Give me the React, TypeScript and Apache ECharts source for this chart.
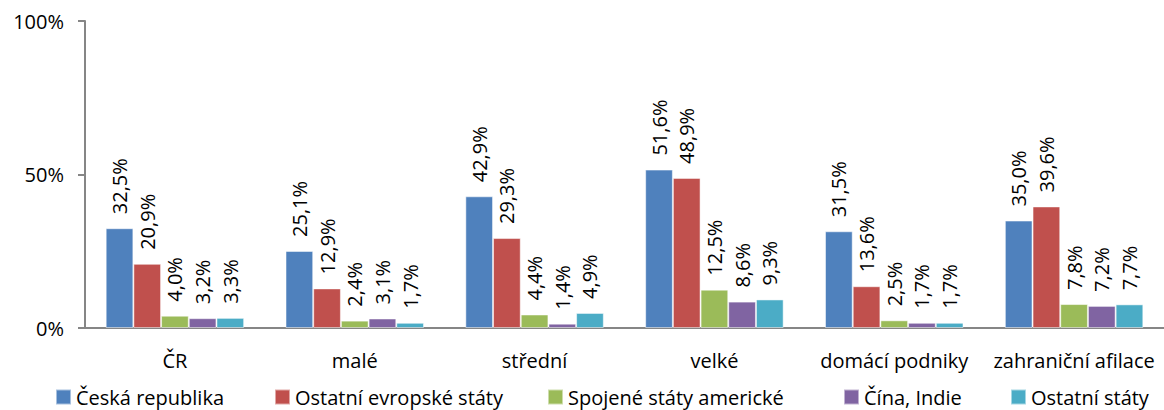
import React, { useEffect, useRef } from "react";
import * as echarts from "echarts";

const categories = ["ČR", "malé", "střední", "velké", "domácí podniky", "zahraniční afilace"];
const seriesNames = ["Česká republika", "Ostatní evropské státy", "Spojené státy americké", "Čína, Indie", "Ostatní státy"];
const ceskaRepublika = [32.5, 25.1, 42.9, 51.6, 31.5, 35.0];
const ostatniEvropske = [20.9, 12.9, 29.3, 48.9, 13.6, 39.6];
const spojeneStaty = [4.0, 2.4, 4.4, 12.5, 2.5, 7.8];
const cinaIndie = [3.2, 3.1, 1.4, 8.6, 1.7, 7.2];
const ostatniStaty = [3.3, 1.7, 4.9, 9.3, 1.7, 7.7];
const yTicks = [0, 50, 100];

const colors = ["#4F81BD", "#C0504D", "#9BBB59", "#8064A2", "#4BACC6"];
const legendLeft = [55, 274, 547, 843, 1010];
const FONT = "'Open Sans', 'Noto Sans', sans-serif";

export default function App() {
  const ref = useRef<HTMLDivElement>(null);
  useEffect(() => {
    if (!ref.current) return;
    const chart = echarts.init(ref.current, null, { renderer: "svg" });
    const data = [ceskaRepublika, ostatniEvropske, spojeneStaty, cinaIndie, ostatniStaty];
    const fmt = (v: number) => v.toFixed(1).replace(".", ",") + "%";
    chart.setOption({
      animation: false,
      textStyle: { fontFamily: FONT },
      grid: { left: 85, right: 0, top: 21, bottom: 82, containLabel: false },
      legend: seriesNames.map((n, i) => ({
        data: [n],
        left: legendLeft[i],
        top: 387,
        itemWidth: 15,
        itemHeight: 15,
        itemGap: 7,
        padding: 0,
        icon: "rect",
        textStyle: { fontFamily: FONT, fontSize: 20, color: "#000", padding: [0, 0, 0, 0] },
      })),
      xAxis: {
        type: "category",
        data: categories,
        axisLine: { lineStyle: { color: "#868686", width: 2 } },
        axisTick: { show: false },
        axisLabel: { interval: 0, fontFamily: FONT, fontSize: 20, color: "#000", margin: 22 },
      },
      yAxis: {
        type: "value",
        min: 0,
        max: 100,
        interval: 50,
        axisLine: { show: true, lineStyle: { color: "#868686", width: 2 } },
        axisTick: { show: true, length: 7, lineStyle: { color: "#868686", width: 2 } },
        splitLine: { show: false },
        axisLabel: {
          fontFamily: FONT,
          fontSize: 20,
          color: "#000",
          margin: 21,
          formatter: (v: number) => (yTicks.includes(v) ? v + "%" : ""),
        },
      },
      series: seriesNames.map((n, i) => ({
        name: n,
        type: "bar",
        data: data[i],
        barGap: "0%",
        barCategoryGap: "23%",
        itemStyle: { color: colors[i], borderColor: "rgba(255,255,255,0.5)", borderWidth: 1 },
        label: {
          show: true,
          position: "top",
          rotate: 90,
          align: "left",
          verticalAlign: "middle",
          distance: 14,
          fontFamily: FONT,
          fontSize: 20,
          color: "#000",
          formatter: (p: any) => fmt(p.value),
        },
      })),
    });
    return () => chart.dispose();
  }, []);
  return (
    <div style={{ position: "absolute", left: 0, top: 0 }}>
      <div ref={ref} style={{ width: 1164, height: 410 }} />
    </div>
  );
}
